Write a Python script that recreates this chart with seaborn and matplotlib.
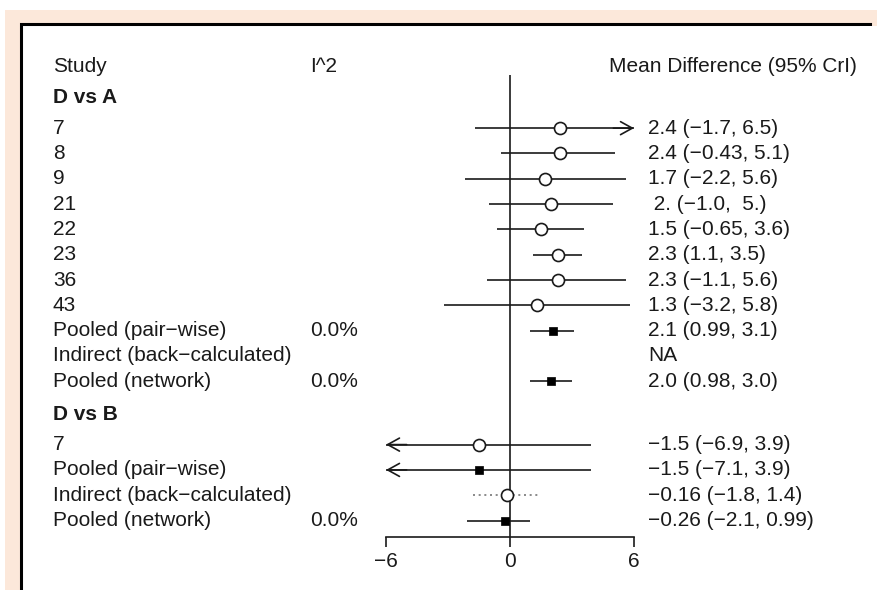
import numpy as np
import pandas as pd
import matplotlib
matplotlib.use('Agg')
import matplotlib.pyplot as plt
import seaborn as sns
from matplotlib.patches import Rectangle, FancyArrowPatch
from matplotlib.transforms import blended_transform_factory

# data
labels_a = ['7', '8', '9', '21', '22', '23', '36', '43',
            'Pooled (pair\u2212wise)', 'Indirect (back\u2212calculated)', 'Pooled (network)']
mean_a = [2.4, 2.4, 1.7, 2.0, 1.5, 2.3, 2.3, 1.3, 2.1, np.nan, 2.0]
lo_a = [-1.7, -0.43, -2.2, -1.0, -0.65, 1.1, -1.1, -3.2, 0.99, np.nan, 0.98]
hi_a = [6.5, 5.1, 5.6, 5.0, 3.6, 3.5, 5.6, 5.8, 3.1, np.nan, 3.0]
i2_a = ['', '', '', '', '', '', '', '', '0.0%', '', '0.0%']
text_a = ['2.4 (\u22121.7, 6.5)', '2.4 (\u22120.43, 5.1)', '1.7 (\u22122.2, 5.6)',
          ' 2. (\u22121.0,  5.)', '1.5 (\u22120.65, 3.6)', '2.3 (1.1, 3.5)',
          '2.3 (\u22121.1, 5.6)', '1.3 (\u22123.2, 5.8)', '2.1 (0.99, 3.1)', 'NA',
          '2.0 (0.98, 3.0)']
kind_a = ['study'] * 8 + ['pooled', 'indirect', 'pooled']

labels_b = ['7', 'Pooled (pair\u2212wise)', 'Indirect (back\u2212calculated)', 'Pooled (network)']
mean_b = [-1.5, -1.5, -0.16, -0.26]
lo_b = [-6.9, -7.1, -1.8, -2.1]
hi_b = [3.9, 3.9, 1.4, 0.99]
i2_b = ['', '', '', '0.0%']
text_b = ['\u22121.5 (\u22126.9, 3.9)', '\u22121.5 (\u22127.1, 3.9)',
          '\u22120.16 (\u22121.8, 1.4)', '\u22120.26 (\u22122.1, 0.99)']
kind_b = ['study', 'pooled', 'indirect', 'pooled']

groups = ['D vs A', 'D vs B']
xlim = (-6, 6)
xticks = [-6, 0, 6]

# layout: row positions (one unit per row, gaps around group headers)
rows = []
headers = []
y = 0.9
for g, (lab, m, lo, hi, i2, txt, kd) in zip(groups, [
        (labels_a, mean_a, lo_a, hi_a, i2_a, text_a, kind_a),
        (labels_b, mean_b, lo_b, hi_b, i2_b, text_b, kind_b)]):
    headers.append((g, y))
    y += 1.2
    for k in range(len(lab)):
        rows.append(dict(group=g, label=lab[k], mean=m[k], lo=lo[k], hi=hi[k],
                         i2=i2[k], text=txt[k], kind=kd[k], y=y))
        y += 1
    y += 0.3
df = pd.DataFrame(rows)

W, H = 878, 590
sns.set_style('white')
plt.rcParams['font.family'] = ['Liberation Sans', 'DejaVu Sans']
ink = '#1a1a1a'
fs = 15

fig = plt.figure(figsize=(W / 100, H / 100), dpi=100, facecolor='white')
fig.patches.append(Rectangle((5 / W, -0.1), 1.2, 1.1 - 10 / H, transform=fig.transFigure,
                             facecolor='#fce8da', edgecolor='none', zorder=-3))
fig.patches.append(Rectangle((21 / W, -0.1), 870 / W - 21 / W, 1.1 - 24 / H,
                             transform=fig.transFigure, facecolor='white',
                             edgecolor='black', linewidth=2.2, zorder=-2))
# white fill running off the right edge (panel continues beyond the crop)
fig.patches.append(Rectangle((860 / W, -0.1), 0.2, 1.1 - 26 / H,
                             transform=fig.transFigure, facecolor='white',
                             edgecolor='none', zorder=-1))

ax = fig.add_axes([386 / W, 1 - 537 / H, 248 / W, 462 / H])
ax.set_facecolor('none')
ax.set_xlim(*xlim)
ax.set_ylim(18.25, 0)

ax.axvline(0, color=ink, lw=1.2, zorder=1)

# CI lines with arrows where the interval runs past the axis
for _, r in df.dropna(subset=['mean']).iterrows():
    a, b = max(r.lo, xlim[0]), min(r.hi, xlim[1])
    ls = (0, (1.2, 2.2)) if r.kind == 'indirect' else '-'
    col = '#777777' if r.kind == 'indirect' else ink
    ax.hlines(r.y, a, b, colors=col, linestyles=ls, lw=1.2, zorder=2)
    for end, tip in ((r.hi, xlim[1]), (r.lo, xlim[0])):
        if (tip > 0 and end > tip) or (tip < 0 and end < tip):
            back = tip - np.sign(tip) * 1.0
            ax.add_patch(FancyArrowPatch((back, r.y), (tip, r.y),
                                         arrowstyle='->,head_length=0.65,head_width=0.36',
                                         mutation_scale=13, color=ink, lw=1.2,
                                         shrinkA=0, shrinkB=0, clip_on=False, zorder=2))

opn = df[df.kind.isin(['study', 'indirect'])].dropna(subset=['mean'])
fil = df[df.kind == 'pooled']
sns.scatterplot(data=opn, x='mean', y='y', ax=ax, marker='o', s=75, color='white',
                edgecolor=ink, linewidth=1.2, zorder=3, clip_on=False)
sns.scatterplot(data=fil, x='mean', y='y', ax=ax, marker='s', s=32, color='black',
                edgecolor='black', linewidth=0.5, zorder=3, clip_on=False)

# axis styling
for s in ['top', 'right', 'left']:
    ax.spines[s].set_visible(False)
ax.spines['bottom'].set_bounds(*xlim)
ax.spines['bottom'].set_color(ink)
ax.spines['bottom'].set_linewidth(1.2)
ax.set_xticks(xticks)
ax.set_xticklabels([str(t).replace('-', '\u2212') for t in xticks])
ax.tick_params(axis='x', direction='out', length=7.5, width=1.2, color=ink,
               labelsize=fs, labelcolor=ink, pad=3, bottom=True)
ax.set_yticks([])
ax.set_xlabel('')
ax.set_ylabel('')

# text columns
tr = blended_transform_factory(fig.transFigure, ax.transData)
x_lab, x_i2, x_txt = 53 / W, 310 / W, 648 / W
ax.text(x_lab, -0.35, 'Study', transform=tr, fontsize=fs, color=ink, va='center')
ax.text(x_i2, -0.35, 'I^2', transform=tr, fontsize=fs, color=ink, va='center')
ax.text(609 / W, -0.35, 'Mean Difference (95% CrI)', transform=tr, fontsize=fs,
        color=ink, va='center')
for g, hy in headers:
    ax.text(x_lab, hy, g, transform=tr, fontsize=fs, color=ink, va='center',
            fontweight='bold')
for _, r in df.iterrows():
    ax.text(x_lab, r.y, r.label, transform=tr, fontsize=fs, color=ink, va='center')
    ax.text(x_i2, r.y, r.i2, transform=tr, fontsize=fs, color=ink, va='center')
    ax.text(x_txt, r.y, r.text, transform=tr, fontsize=fs, color=ink, va='center')

fig.savefig('out.png', dpi=100, facecolor=fig.get_facecolor())
